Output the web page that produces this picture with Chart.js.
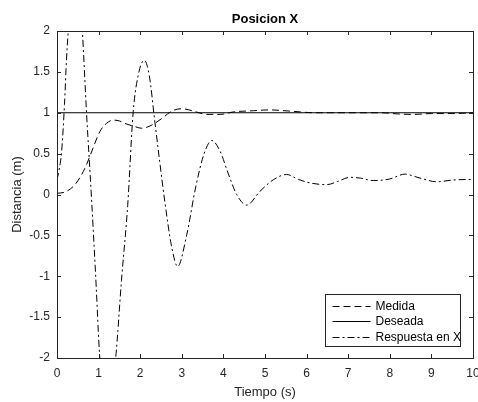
<!DOCTYPE html>
<html>
<head>
<meta charset="utf-8">
<script src="https://cdn.jsdelivr.net/npm/chart.js@4"></script>
<style>
  html, body { margin: 0; padding: 0; background: #fff; }
  #wrap { width: 478px; height: 402px; }
</style>
</head>
<body>
<div id="wrap"><canvas id="c" width="478" height="402"></canvas></div>
<script>
// Medida (dashed)
const tMedida = [0, 0.19, 0.43, 0.67, 0.83, 1.03, 1.19, 1.35, 1.5, 1.63, 1.875, 2.04, 2.28, 2.52, 2.76, 3.0, 3.28, 3.6, 3.92, 4.24, 4.72, 5.1, 5.6, 6.2, 7.0, 7.8, 8.2, 8.6, 9.0, 9.5, 10];
const vMedida = [0.015, 0.03, 0.12, 0.32, 0.52, 0.77, 0.87, 0.91, 0.9, 0.87, 0.83, 0.81, 0.85, 0.93, 1.02, 1.05, 1.02, 0.98, 0.98, 1.01, 1.025, 1.035, 1.02, 1.0, 1.0, 1.0, 0.985, 0.98, 0.99, 0.99, 1.0];

// Deseada (solid)
const tDeseada = [0, 10];
const vDeseada = [1, 1];

// Respuesta en X (dash-dot)
const tResp = [0, 0.05, 0.11, 0.18, 0.23, 0.27, 0.35, 0.44, 0.53, 0.61, 0.71, 0.83, 0.93, 1.03, 1.22, 1.41, 1.55, 1.70, 1.83, 1.97, 2.10, 2.22, 2.35, 2.59, 2.76, 2.9, 3.12, 3.33, 3.53, 3.72, 3.92, 4.12, 4.32, 4.56, 4.88, 5.2, 5.52, 5.8, 6.1, 6.48, 6.75, 7.04, 7.3, 7.6, 8.0, 8.37, 8.6, 8.8, 9.13, 9.4, 9.6, 10];
const vResp = [0.18, 0.3, 0.52, 1.1, 1.67, 2.0, 2.7, 2.95, 2.6, 2.0, 1.0, -0.05, -1.0, -2.0, -2.6, -2.0, -1.05, -0.13, 1.0, 1.5, 1.64, 1.45, 0.9, -0.08, -0.65, -0.88, -0.49, 0.08, 0.49, 0.66, 0.53, 0.25, 0.0, -0.13, 0.04, 0.18, 0.245, 0.185, 0.14, 0.12, 0.16, 0.21, 0.2, 0.17, 0.19, 0.25, 0.22, 0.19, 0.155, 0.17, 0.18, 0.185];

const xTicks = [0, 1, 2, 3, 4, 5, 6, 7, 8, 9, 10];
const yTicks = [-2, -1.5, -1, -0.5, 0, 0.5, 1, 1.5, 2];

const toPts = (ts, vs) => ts.map((t, i) => ({ x: t, y: vs[i] }));
const axisColor = '#262626';
const fontFamily = '"Liberation Sans", Arial, sans-serif';

// box round the axes, inward ticks on all four sides, legend inside the lower right
const boxPlugin = {
  id: 'matlabBox',
  afterDatasetsDraw(chart) {
    const { ctx, chartArea: a, scales } = chart;
    ctx.save();
    ctx.strokeStyle = axisColor;
    ctx.lineWidth = 1;
    ctx.beginPath();
    for (const v of xTicks) {
      const px = Math.round(scales.x.getPixelForValue(v)) + 0.5;
      ctx.moveTo(px, a.bottom); ctx.lineTo(px, a.bottom - 4);
      ctx.moveTo(px, a.top); ctx.lineTo(px, a.top + 4);
    }
    for (const v of yTicks) {
      const py = Math.round(scales.y.getPixelForValue(v)) + 0.5;
      ctx.moveTo(a.left, py); ctx.lineTo(a.left + 4, py);
      ctx.moveTo(a.right, py); ctx.lineTo(a.right - 4, py);
    }
    ctx.stroke();
    ctx.strokeRect(Math.round(a.left) + 0.5, Math.round(a.top) + 0.5,
      Math.round(a.right - a.left), Math.round(a.bottom - a.top));

    // legend
    const bw = 135, bh = 52;
    const bx = Math.round(a.right - 13 - bw) + 0.5;
    const by = Math.round(a.bottom - 12 - bh) + 0.5;
    ctx.fillStyle = '#fff';
    ctx.fillRect(bx, by, bw, bh);
    ctx.strokeStyle = axisColor;
    ctx.strokeRect(bx, by, bw, bh);
    ctx.font = '12px ' + fontFamily;
    ctx.textBaseline = 'middle';
    chart.data.datasets.forEach((ds, i) => {
      const y = Math.round(by + 11 + i * 15.5) + 0.5;
      ctx.strokeStyle = '#000';
      ctx.setLineDash(ds.borderDash || []);
      ctx.beginPath();
      ctx.moveTo(bx + 7, y); ctx.lineTo(bx + 45, y);
      ctx.stroke();
      ctx.setLineDash([]);
      ctx.fillStyle = '#000';
      ctx.fillText(ds.label, bx + 50, y);
    });
    ctx.restore();
  }
};

new Chart(document.getElementById('c'), {
  type: 'scatter',
  data: {
    datasets: [
      { label: 'Medida', data: toPts(tMedida, vMedida), borderDash: [7, 4] },
      { label: 'Deseada', data: toPts(tDeseada, vDeseada), borderDash: [] },
      { label: 'Respuesta en X', data: toPts(tResp, vResp), borderDash: [7, 3, 2, 3] }
    ].map(d => Object.assign(d, {
      showLine: true, borderColor: '#000', borderWidth: 1, pointRadius: 0,
      cubicInterpolationMode: 'monotone', fill: false
    }))
  },
  options: {
    responsive: false,
    animation: false,
    events: [],
    layout: { padding: { left: 0, right: 5, top: 0, bottom: 0 } },
    plugins: {
      legend: { display: false },
      tooltip: { enabled: false },
      title: {
        display: true, text: 'Posicion X', fullSize: false, color: '#000',
        font: { family: fontFamily, size: 13, weight: 'bold' },
        padding: { top: 12, bottom: 3.4 }
      }
    },
    scales: {
      x: {
        type: 'linear', min: 0, max: 10,
        afterBuildTicks: s => { s.ticks = xTicks.map(v => ({ value: v })); },
        afterFit: s => { s.height = 44; s.paddingLeft = 0; s.paddingRight = 0; },
        grid: { display: false, drawTicks: false },
        border: { display: false },
        ticks: { color: axisColor, padding: 8, maxRotation: 0, callback: v => String(v), font: { family: fontFamily, size: 12 } },
        title: { display: true, text: 'Tiempo (s)', color: axisColor, padding: { top: 2, bottom: 2 }, font: { family: fontFamily, size: 13 } }
      },
      y: {
        type: 'linear', min: -2, max: 2,
        afterBuildTicks: s => { s.ticks = yTicks.map(v => ({ value: v })); },
        afterFit: s => { s.width = 57; s.paddingTop = 0; s.paddingBottom = 0; },
        grid: { display: false, drawTicks: false },
        border: { display: false },
        ticks: { color: axisColor, padding: 7, callback: v => String(v), font: { family: fontFamily, size: 12 } },
        title: { display: true, text: 'Distancia (m)', color: axisColor, padding: { top: 10, bottom: 2 }, font: { family: fontFamily, size: 13 } }
      }
    }
  },
  plugins: [boxPlugin]
});
</script>
</body>
</html>
